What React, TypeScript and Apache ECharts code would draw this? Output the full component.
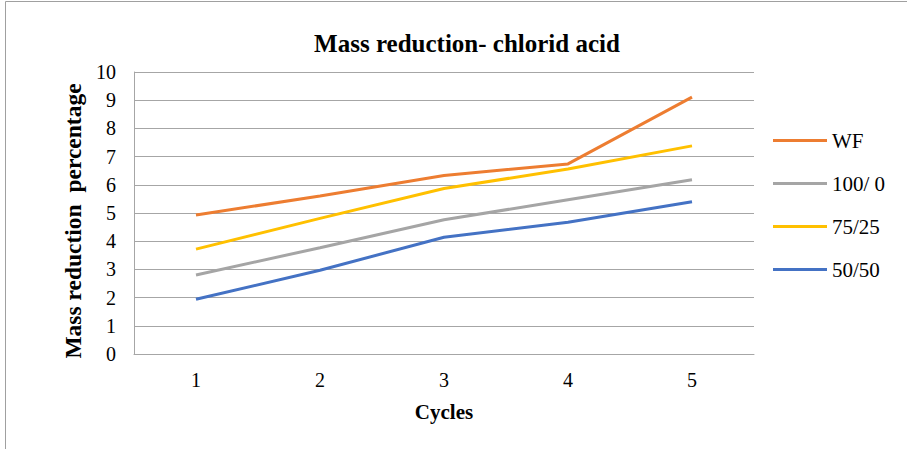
import React, { useEffect, useRef } from "react";
import * as echarts from "echarts";

const cycles = ["1", "2", "3", "4", "5"];
const wf = [4.93, 5.6, 6.33, 6.74, 9.11];
const s100_0 = [2.8, 3.77, 4.76, 5.47, 6.18];
const s75_25 = [3.72, 4.81, 5.87, 6.56, 7.38];
const s50_50 = [1.94, 2.97, 4.14, 4.67, 5.4];
const seriesNames = ["WF", "100/ 0", "75/25", "50/50"];
const colors = ["#ED7D31", "#A5A5A5", "#FFC000", "#4472C4"];

const FONT = "Liberation Serif";
const GRID = "#a6a6a6";

export default function App() {
  const ref = useRef<HTMLDivElement>(null);
  useEffect(() => {
    if (!ref.current) return;
    const chart = echarts.init(ref.current, undefined, { renderer: "svg" });
    const data = [wf, s100_0, s75_25, s50_50];
    chart.setOption({
      animation: false,
      backgroundColor: "#ffffff",
      textStyle: { fontFamily: FONT },
      title: {
        text: "Mass reduction- chlorid acid",
        left: 462,
        textAlign: "center",
        top: 26,
        textStyle: { fontFamily: FONT, fontSize: 25, fontWeight: "bold", color: "#000" },
      },
      legend: {
        orient: "vertical",
        left: 768,
        top: 125,
        itemWidth: 54,
        itemHeight: 3,
        itemGap: 22,
        icon: "rect",
        data: seriesNames,
        textStyle: { fontFamily: FONT, fontSize: 21, color: "#000" },
      },
      grid: { left: 134, right: 153, top: 72, bottom: 95 },
      xAxis: {
        type: "category",
        data: cycles,
        boundaryGap: true,
        axisTick: { show: false },
        axisLine: { lineStyle: { color: GRID, width: 1 } },
        axisLabel: { fontFamily: FONT, fontSize: 20, color: "#000", margin: 16 },
        name: "Cycles",
        nameLocation: "middle",
        nameGap: 47,
        nameTextStyle: { fontFamily: FONT, fontSize: 21, fontWeight: "bold", color: "#000" },
      },
      yAxis: {
        type: "value",
        min: 0,
        max: 10,
        interval: 1,
        axisLine: { show: true, lineStyle: { color: GRID, width: 1 } },
        axisTick: { show: false },
        splitLine: { lineStyle: { color: GRID, width: 1 } },
        axisLabel: { fontFamily: FONT, fontSize: 20, color: "#000", margin: 18 },
        name: "Mass reduction  percentage",
        nameLocation: "middle",
        nameGap: 49,
        nameTextStyle: {
          fontFamily: FONT,
          fontSize: 23.5,
          fontWeight: "bold",
          color: "#000",
          padding: [0, 16, 0, 0],
        },
      },
      graphic: [
        { type: "line", shape: { x1: 5.5, y1: 1.5, x2: 907, y2: 1.5 }, style: { stroke: "#a0a0a0", lineWidth: 1 } },
        { type: "line", shape: { x1: 5.5, y1: 1.5, x2: 5.5, y2: 449 }, style: { stroke: "#a0a0a0", lineWidth: 1 } },
      ],
      series: seriesNames.map((n, i) => ({
        name: n,
        type: "line",
        data: data[i],
        showSymbol: false,
        symbol: "none",
        color: colors[i],
        lineStyle: { color: colors[i], width: 3 },
      })),
    });
    return () => chart.dispose();
  }, []);
  return (
    <div
      ref={ref}
      style={{ position: "absolute", left: 0, top: 0, width: 907, height: 449 }}
    />
  );
}
